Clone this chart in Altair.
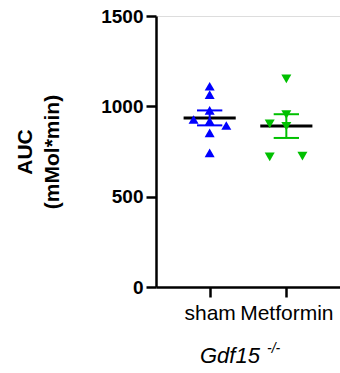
import altair as alt
import pandas as pd
import numpy as np

# ---- data ----
groups = ["sham", "Metformin"]
sham_values = [1111, 1065, 978, 927, 918, 894, 853, 742]
sham_jitter = [0, 0, 0, -0.21, 0, 0.217, 0, 0]
metformin_values = [1152, 955, 903, 890, 720, 724]
metformin_jitter = [0, 0, -0.217, 0, -0.217, 0.21]
group_colors = ["#0000FF", "#00C000"]
group_shapes = ["triangle-up", "triangle-down"]
y_ticks = [0, 500, 1000, 1500]

FONT = "Liberation Sans"

rows = []
for gi, (vals, jit) in enumerate([(sham_values, sham_jitter), (metformin_values, metformin_jitter)]):
    for v, j in zip(vals, jit):
        rows.append({"group": groups[gi], "gi": gi, "x": gi + j, "value": v})
pts = pd.DataFrame(rows)

summ = []
for gi, vals in enumerate([sham_values, metformin_values]):
    a = np.array(vals, dtype=float)
    m = a.mean()
    sem = a.std(ddof=1) / np.sqrt(len(a))
    summ.append({"group": groups[gi], "gi": gi, "mean": m, "lo": m - sem, "hi": m + sem})
summ = pd.DataFrame(summ)

xscale = alt.Scale(domain=[-0.7, 1.7], nice=False, zero=False)
yscale = alt.Scale(domain=[0, 1500], nice=False)
color = alt.Color("group:N", scale=alt.Scale(domain=groups, range=group_colors), legend=None)
shape = alt.Shape("group:N", scale=alt.Scale(domain=groups, range=group_shapes), legend=None)

xaxis = alt.Axis(values=[0, 1], labelExpr="datum.value == 0 ? 'sham' : 'Metformin'",
                 title=None, grid=False, labelFont=FONT, labelFontSize=21,
                 labelColor="black", labelPadding=5, tickSize=10, tickWidth=2.5,
                 tickColor="black", domainColor="black", domainWidth=2.5)
yaxis = alt.Axis(values=y_ticks, format="d", title=["AUC", "(mMol*min)"], grid=False,
                 labelFont=FONT, labelFontSize=19, labelFontWeight="bold",
                 labelColor="black", labelPadding=3, tickSize=10, tickWidth=2.5,
                 tickColor="black", domainColor="black", domainWidth=2.5,
                 titleFont=FONT, titleFontSize=21, titleFontWeight="bold",
                 titleColor="black", titlePadding=38, titleLineHeight=27)

base_pts = alt.Chart(pts)
points = base_pts.mark_point(filled=True, size=100, opacity=1).encode(
    x=alt.X("x:Q", scale=xscale, axis=xaxis),
    y=alt.Y("value:Q", scale=yscale, axis=yaxis),
    color=color, shape=shape,
)

base_s = alt.Chart(summ)
mean_line = base_s.transform_calculate(
    x1="datum.gi - 0.34", x2="datum.gi + 0.34"
).mark_rule(color="black", strokeWidth=3).encode(
    x=alt.X("x1:Q", scale=xscale), x2="x2:Q", y=alt.Y("mean:Q", scale=yscale)
)
err_v = base_s.mark_rule(strokeWidth=2).encode(
    x=alt.X("gi:Q", scale=xscale), y=alt.Y("lo:Q", scale=yscale), y2="hi:Q", color=color
)
cap_lo = base_s.transform_calculate(
    x1="datum.gi - 0.165", x2="datum.gi + 0.165"
).mark_rule(strokeWidth=2).encode(
    x=alt.X("x1:Q", scale=xscale), x2="x2:Q", y=alt.Y("lo:Q", scale=yscale), color=color
)
cap_hi = base_s.transform_calculate(
    x1="datum.gi - 0.165", x2="datum.gi + 0.165"
).mark_rule(strokeWidth=2).encode(
    x=alt.X("x1:Q", scale=xscale), x2="x2:Q", y=alt.Y("hi:Q", scale=yscale), color=color
)

title_main = alt.Chart(pd.DataFrame({"t": ["Gdf15"]})).mark_text(
    font=FONT, fontSize=22, fontStyle="italic", align="left", baseline="alphabetic", color="black"
).encode(text="t:N", x=alt.value(44), y=alt.value(347))
title_sup = alt.Chart(pd.DataFrame({"t": ["-/-"]})).mark_text(
    font=FONT, fontSize=14, fontStyle="italic", align="left", baseline="alphabetic", color="black"
).encode(text="t:N", x=alt.value(111), y=alt.value(337))

chart = alt.layer(mean_line, err_v, cap_lo, cap_hi, points, title_main, title_sup).properties(
    width=184, height=271,
    autosize=alt.AutoSizeParams(type="none"),
    padding={"left": 156, "top": 16, "right": 0, "bottom": 86},
).configure_view(stroke=None).configure(background="white")

chart.save("out.html", embed_options={"renderer": "svg", "actions": False})
